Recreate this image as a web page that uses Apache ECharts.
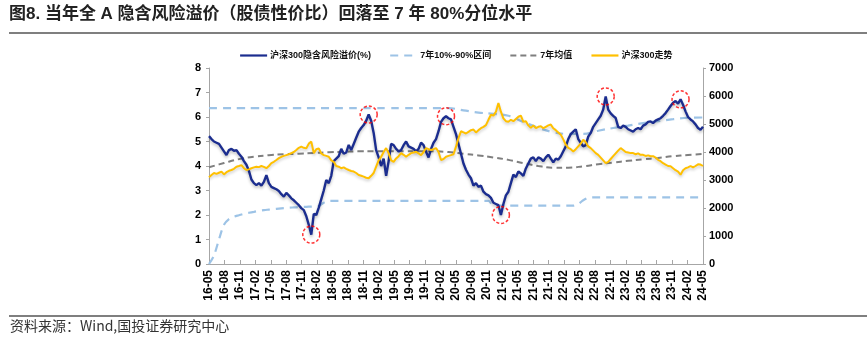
<!DOCTYPE html>
<html>
<head>
<meta charset="utf-8">
<script src="https://cdn.jsdelivr.net/npm/echarts@6/dist/echarts.min.js"></script>
<style>
  html, body { margin: 0; padding: 0; background: #fff; }
  #chart { width: 867px; height: 341px; }
</style>
</head>
<body>
<div id="chart"></div>
<script>
// Span of the x axis in months, starting at 2016-05
const SPAN_MONTHS = 96;
const START_YEAR = 2016;
const START_MONTH = 5;

// CSI 300 implied equity risk premium (%), roughly twice a month
const riskPremium = [
  5.22, 5.1, 5.0, 4.95, 4.9, 4.75, 4.6, 4.45, 4.65, 4.7,
  4.62, 4.65, 4.5, 4.38, 4.2, 4.05, 3.8, 3.45, 3.3, 3.22,
  3.3, 3.2, 3.35, 3.63, 3.3, 3.15, 3.1, 3.05, 2.98, 2.85,
  2.75, 2.9, 2.8, 2.68, 2.6, 2.5, 2.4, 2.28, 2.2, 1.95,
  1.6, 1.2, 2.05, 2.0, 2.3, 2.65, 3.0, 3.43, 3.3, 3.6,
  4.2, 4.3, 4.4, 4.7, 4.5, 4.55, 4.86, 4.65, 4.9, 5.15,
  5.4, 5.55, 5.67, 5.85, 6.1, 5.85, 5.35, 4.65, 4.35, 4.0,
  4.3, 3.6, 4.2, 4.9, 4.85, 4.7, 4.6, 4.65, 4.85, 5.0,
  4.8, 4.75, 4.7, 4.6, 4.7, 4.95, 4.85, 4.58, 4.35, 4.7,
  4.95, 5.1, 5.42, 5.8, 5.95, 6.03, 5.95, 5.9, 5.6, 5.3,
  4.9, 4.5, 4.1, 3.85, 3.65, 3.5, 3.2, 3.3, 3.15, 3.2,
  2.95, 2.85, 2.8, 2.7, 2.5, 2.45, 2.4, 2.0, 2.45, 2.8,
  2.95, 3.3, 3.65, 3.55, 3.78, 3.7, 3.6, 3.9, 4.1, 4.3,
  4.35, 4.2, 4.35, 4.3, 4.2, 4.35, 4.46, 4.3, 4.15, 4.3,
  4.26, 4.4, 4.6, 4.8, 5.1, 5.3, 5.4, 5.5, 5.1, 4.95,
  4.8, 4.85, 5.2, 5.35, 5.6, 5.75, 5.9, 6.05, 6.3, 6.84,
  6.3, 6.15, 6.05, 5.96, 5.6, 5.55, 5.65, 5.6, 5.5, 5.45,
  5.4, 5.5, 5.55, 5.5, 5.65, 5.7, 5.8, 5.82, 5.75, 5.85,
  5.9, 5.95, 6.05, 6.16, 6.3, 6.45, 6.58, 6.65, 6.55, 6.72,
  6.5, 6.23, 6.0, 5.9, 5.82, 5.7, 5.55, 5.48, 5.6
];

// CSI 300 index level, same sampling
const csi300 = [
  3100, 3180, 3250, 3220, 3260, 3300, 3200, 3280, 3330, 3357,
  3400, 3475, 3500, 3530, 3420, 3357, 3380, 3420, 3450, 3475,
  3460, 3500, 3470, 3420, 3500, 3600, 3650, 3714, 3780, 3830,
  3860, 3890, 3920, 3960, 4000, 4071, 4150, 4190, 4150, 4130,
  4300, 4370, 3960, 4100, 4130, 3950, 3890, 3860, 3830, 3700,
  3650, 3500, 3475, 3420, 3450, 3400, 3357, 3320, 3300, 3250,
  3180, 3150, 3120, 3080, 3060, 3150, 3250, 3475, 3700, 3830,
  4000, 4140, 3960, 3700, 3650, 3770, 3850, 3960, 3900, 3830,
  3900, 3960, 3980, 4010, 3950, 3890, 4000, 4140, 4100, 4071,
  4100, 4140, 4000, 3714, 3750, 3830, 3860, 3890, 3920, 4190,
  4500, 4740, 4700, 4660, 4720, 4780, 4800, 4700, 4780, 4850,
  4900, 4960, 5150, 5330, 5300, 5440, 5750, 5440, 5200, 5100,
  5080, 5150, 5100, 5180, 5260, 5300, 5080, 5100, 4950, 4860,
  4950, 4850, 4900, 4920, 4850, 4900, 4950, 4980, 4850, 4780,
  4700, 4620, 4450, 4260, 4150, 4100, 4020, 4100, 4200, 4300,
  4440, 4350, 4200, 4140, 4050, 3960, 3900, 3800, 3700, 3600,
  3650, 3750, 3850, 3950, 4050, 4140, 4070, 4000, 3980, 3960,
  3960, 3920, 3950, 3900, 3900, 3860, 3880, 3850, 3850, 3800,
  3720, 3670, 3600, 3550, 3500, 3490, 3420, 3350, 3300, 3190,
  3350, 3420, 3450, 3500, 3450, 3500, 3560, 3550, 3500
];

// Rolling 7-year 90th percentile, quarterly
const band90 = [
  6.36, 6.36, 6.36, 6.36, 6.36, 6.36, 6.36, 6.36, 6.36, 6.36,
  6.36, 6.36, 6.36, 6.36, 6.36, 6.36, 6.36, 6.27, 6.18, 6.13,
  6.05, 5.8, 5.56, 5.38, 5.31, 5.31, 5.44, 5.55, 5.65, 5.75,
  5.83, 5.91, 5.97, 5.98
];

// Rolling 7-year 10th percentile, monthly
const band10 = [
  0.0, 0.35, 1.0, 1.6, 1.83, 1.93, 1.99, 2.05, 2.09, 2.13,
  2.17, 2.2, 2.22, 2.24, 2.26, 2.28, 2.3, 2.31, 2.32, 2.33,
  2.34, 2.35, 2.37, 2.5, 2.58, 2.58, 2.58, 2.58, 2.58, 2.58,
  2.58, 2.58, 2.58, 2.58, 2.58, 2.58, 2.58, 2.58, 2.58, 2.58,
  2.58, 2.58, 2.58, 2.58, 2.58, 2.58, 2.58, 2.58, 2.58, 2.58,
  2.58, 2.58, 2.58, 2.58, 2.58, 2.58, 2.58, 2.38, 2.38, 2.38,
  2.38, 2.38, 2.38, 2.38, 2.38, 2.38, 2.38, 2.38, 2.38, 2.38,
  2.38, 2.38, 2.38, 2.38, 2.45, 2.6, 2.7, 2.72, 2.72, 2.72,
  2.72, 2.72, 2.72, 2.72, 2.72, 2.72, 2.72, 2.72, 2.72, 2.72,
  2.72, 2.72, 2.72, 2.72, 2.72, 2.72, 2.72, 2.72, 2.72, 2.72
];

// Rolling 7-year mean, quarterly
const mean7y = [
  3.95, 4.12, 4.28, 4.38, 4.44, 4.48, 4.5, 4.53, 4.56, 4.58,
  4.6, 4.6, 4.6, 4.6, 4.6, 4.6, 4.57, 4.5, 4.43, 4.35,
  4.25, 4.12, 4.0, 3.93, 3.93, 3.99, 4.07, 4.14, 4.21, 4.27,
  4.33, 4.4, 4.45, 4.49
];

// Turning points of the premium that are ringed on the chart (indexes into riskPremium)
const highlighted = [41, 64, 95, 117, 159, 189];

const leftTicks = { min: 0, max: 8, interval: 1 };
const rightTicks = { min: 0, max: 7000, interval: 1000 };

const NAME_PREMIUM = '沪深300隐含风险溢价(%)';
const NAME_BAND = '7年10%-90%区间';
const NAME_MEAN = '7年均值';
const NAME_INDEX = '沪深300走势';

// Place an array evenly across the whole time span
function spread(values) {
  const step = SPAN_MONTHS / (values.length - 1);
  return values.map((v, i) => [i * step, v]);
}

function monthLabel(m) {
  const total = START_MONTH - 1 + Math.round(m);
  const y = START_YEAR + Math.floor(total / 12);
  const mo = (total % 12) + 1;
  return String(y).slice(2) + '-' + (mo < 10 ? '0' + mo : mo);
}

const FONT = '"Liberation Sans", Arial, "Noto Sans CJK SC", sans-serif';
const axisGray = '#a6a6a6';

const premiumPts = spread(riskPremium);
const ringPts = highlighted.map(k => premiumPts[k]);

const chart = echarts.init(document.getElementById('chart'), null, { renderer: 'canvas' });

chart.setOption({
  backgroundColor: '#fff',
  animation: false,
  textStyle: { fontFamily: FONT },
  grid: { left: 209, right: 164, top: 68, bottom: 77, containLabel: false },
  legend: {
    data: [NAME_PREMIUM, NAME_BAND, NAME_MEAN, NAME_INDEX],
    left: 234,
    top: 46,
    itemWidth: 27,
    itemHeight: 10,
    itemGap: 18,
    // line-only keys: hide the marker drawn in the middle of each key
    itemStyle: { opacity: 0 },
    lineStyle: { type: 'inherit', width: 2.2 },
    textStyle: { fontSize: 9, fontWeight: 'bold', color: '#111', fontFamily: FONT, padding: [0, 0, 0, -2] }
  },
  xAxis: {
    type: 'value',
    min: 0,
    max: SPAN_MONTHS,
    interval: 3,
    splitLine: { show: false },
    axisLine: { show: true, onZero: false, lineStyle: { color: axisGray, width: 1 } },
    axisTick: { show: true, inside: true, length: 4, lineStyle: { color: axisGray } },
    axisLabel: {
      rotate: 90,
      fontSize: 12,
      fontWeight: 'bold',
      color: '#000',
      margin: 6,
      formatter: monthLabel
    }
  },
  yAxis: [
    {
      type: 'value',
      min: leftTicks.min,
      max: leftTicks.max,
      interval: leftTicks.interval,
      splitLine: { show: false },
      axisLine: { show: true, lineStyle: { color: axisGray } },
      axisTick: { show: true, length: 3, lineStyle: { color: axisGray } },
      axisLabel: { fontSize: 11, fontWeight: 'bold', color: '#000', margin: 8 }
    },
    {
      type: 'value',
      min: rightTicks.min,
      max: rightTicks.max,
      interval: rightTicks.interval,
      splitLine: { show: false },
      axisLine: { show: true, lineStyle: { color: axisGray } },
      axisTick: { show: true, length: 3, lineStyle: { color: axisGray } },
      axisLabel: {
        fontSize: 11, fontWeight: 'bold', color: '#000', margin: 6,
        formatter: v => String(v)
      }
    }
  ],
  series: [
    {
      name: NAME_BAND,
      type: 'line',
      yAxisIndex: 0,
      data: spread(band90),
      symbol: 'none',
      smooth: 0.4,
      lineStyle: { color: '#9DC3E6', width: 2.2, type: [8, 6] },
      itemStyle: { color: '#9DC3E6' },
      z: 2
    },
    {
      name: NAME_BAND,
      type: 'line',
      yAxisIndex: 0,
      data: spread(band10),
      symbol: 'none',
      smooth: 0.3,
      lineStyle: { color: '#9DC3E6', width: 2.2, type: [8, 6] },
      itemStyle: { color: '#9DC3E6' },
      z: 2
    },
    {
      name: NAME_MEAN,
      type: 'line',
      yAxisIndex: 0,
      data: spread(mean7y),
      symbol: 'none',
      smooth: 0.4,
      lineStyle: { color: '#7f7f7f', width: 2, type: [6, 4] },
      itemStyle: { color: '#7f7f7f' },
      z: 3
    },
    {
      name: NAME_PREMIUM,
      type: 'line',
      yAxisIndex: 0,
      data: premiumPts,
      symbol: 'none',
      lineStyle: {
        color: '#1B2D8F', width: 2.4,
        shadowColor: 'rgba(0,0,0,0.25)', shadowBlur: 3, shadowOffsetY: 2
      },
      itemStyle: { color: '#1B2D8F' },
      z: 4
    },
    {
      name: NAME_INDEX,
      type: 'line',
      yAxisIndex: 1,
      data: spread(csi300),
      symbol: 'none',
      lineStyle: {
        color: '#FFC000', width: 2,
        shadowColor: 'rgba(0,0,0,0.2)', shadowBlur: 3, shadowOffsetY: 2
      },
      itemStyle: { color: '#FFC000' },
      z: 5
    },
    {
      name: 'rings',
      type: 'scatter',
      yAxisIndex: 0,
      data: ringPts,
      symbol: 'circle',
      symbolSize: 17,
      itemStyle: {
        color: 'rgba(0,0,0,0)',
        borderColor: '#FF0000',
        borderWidth: 1.5,
        borderType: [3, 2]
      },
      silent: true,
      z: 6
    }
  ],
  graphic: [
    {
      type: 'text',
      left: 9,
      top: 6,
      style: {
        text: '图8. 当年全 A 隐含风险溢价（股债性价比）回落至 7 年 80%分位水平',
        fontSize: 17,
        fontWeight: 'bold',
        fontFamily: FONT,
        fill: '#222'
      }
    },
    {
      type: 'rect',
      shape: { x: 9, y: 32, width: 858, height: 2 },
      style: { fill: '#7f7f7f' }
    },
    {
      type: 'rect',
      shape: { x: 9, y: 315, width: 858, height: 2 },
      style: { fill: '#7f7f7f' }
    },
    {
      type: 'text',
      left: 10,
      top: 319,
      style: {
        text: '资料来源：Wind,国投证券研究中心',
        fontSize: 14,
        fontFamily: '"Noto Sans CJK SC", sans-serif',
        fill: '#333'
      }
    }
  ]
});
</script>
</body>
</html>
